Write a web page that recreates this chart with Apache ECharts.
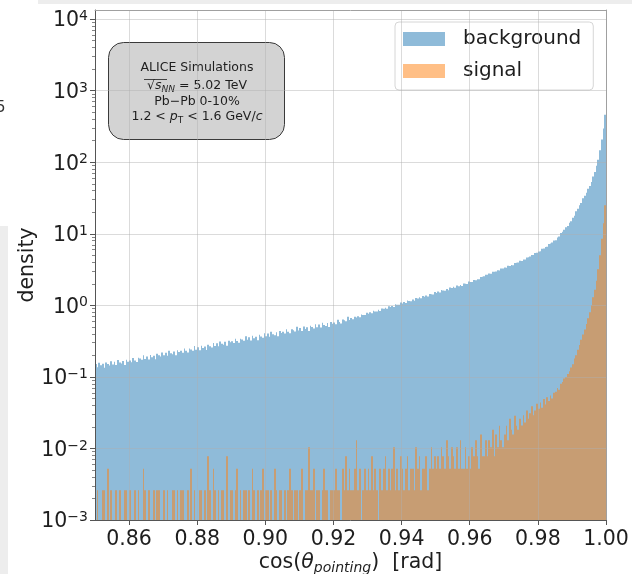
<!DOCTYPE html>
<html>
<head>
<meta charset="utf-8">
<script src="https://cdn.jsdelivr.net/npm/echarts@6/dist/echarts.min.js"></script>
<style>
  html, body { margin: 0; padding: 0; background: #ffffff; }
  #chart { width: 632px; height: 574px; }
</style>
</head>
<body>
<div id="chart"></div>
<script>
// Histogram binning of cos(theta_pointing): 300 bins of width 0.0005 over [0.85, 1.00]
const X_LO = 0.85;
const X_HI = 1.00;
const BIN_W = 0.0005;
const Y_MIN = 1e-3;
const Y_MAX = 1.34e4;

// Tick positions
const xTickValues = [0.86, 0.88, 0.90, 0.92, 0.94, 0.96, 0.98, 1.00];
const yTickValues = [1e-3, 1e-2, 1e-1, 1e0, 1e1, 1e2, 1e3, 1e4];

// Background density per bin (normalised histogram)
const bgDensity = [
  0.151,0.136,0.157,0.145,0.152,0.134,0.159,0.151,0.144,0.165,
  0.149,0.163,0.147,0.172,0.159,0.154,0.167,0.147,0.174,0.163,
  0.169,0.160,0.184,0.170,0.162,0.185,0.180,0.173,0.200,0.178,
  0.193,0.175,0.203,0.188,0.198,0.176,0.210,0.200,0.192,0.220,
  0.200,0.218,0.197,0.231,0.214,0.207,0.227,0.200,0.235,0.222,
  0.231,0.217,0.249,0.231,0.219,0.250,0.242,0.232,0.270,0.240,
  0.260,0.235,0.273,0.253,0.266,0.237,0.282,0.269,0.258,0.297,
  0.270,0.295,0.267,0.313,0.290,0.282,0.309,0.273,0.321,0.304,
  0.316,0.297,0.341,0.317,0.300,0.342,0.332,0.320,0.370,0.330,
  0.357,0.323,0.375,0.347,0.364,0.325,0.387,0.368,0.353,0.406,
  0.369,0.403,0.365,0.427,0.395,0.383,0.419,0.371,0.437,0.412,
  0.428,0.403,0.462,0.429,0.406,0.463,0.450,0.432,0.501,0.445,
  0.484,0.436,0.507,0.468,0.492,0.438,0.520,0.496,0.475,0.545,
  0.495,0.541,0.489,0.573,0.531,0.516,0.564,0.499,0.586,0.553,
  0.576,0.544,0.627,0.583,0.556,0.636,0.621,0.598,0.695,0.622,
  0.663,0.641,0.692,0.677,0.703,0.680,0.742,0.732,0.730,0.787,
  0.762,0.799,0.772,0.842,0.823,0.820,0.868,0.831,0.906,0.895,
  0.928,0.897,0.968,0.945,0.981,0.948,1.033,1.019,1.015,1.095,
  1.059,1.111,1.074,1.171,1.146,1.143,1.210,1.158,1.264,1.248,
  1.295,1.252,1.352,1.322,1.371,1.325,1.445,1.427,1.422,1.534,
  1.485,1.557,1.505,1.642,1.606,1.601,1.695,1.623,1.772,1.750,
  1.816,1.756,1.895,1.852,1.921,1.857,2.025,1.999,1.992,2.150,
  2.121,2.110,2.252,2.241,2.321,2.309,2.490,2.503,2.540,2.684,
  2.673,2.787,2.763,2.938,2.943,2.977,3.103,3.076,3.272,3.277,
  3.384,3.358,3.575,3.549,3.668,3.639,3.915,3.926,3.976,4.190,
  4.158,4.366,4.360,4.671,4.713,4.802,5.042,5.034,5.393,5.441,
  5.656,5.702,6.165,6.216,6.524,6.574,7.182,7.315,7.524,8.053,
  8.12,8.86,9.18,10.22,10.71,11.34,12.36,12.83,14.27,14.96,
  16.7,17.9,20.7,22.3,25.0,26.9,31.3,34.1,37.4,42.7,
  46.5,53,63,73,89,108,147,208,295,460
];

// Signal density per bin (0 = empty bin)
const sigDensity = [
  0,.0026,0,0,.0026,.0026,0,.0052,0,.0026,0,0,.0026,0,.0026,0,0,.0026,.0026,0,
  .0026,0,0,.0026,0,.0026,0,0,.0052,.0026,0,.0026,0,0,.0026,0,.0026,.0026,0,0,
  .0026,0,.0026,0,0,.0026,.0026,0,.0026,0,.0026,.0026,0,0,.0026,0,.0052,0,.0026,0,
  0,.0026,.0026,0,.0026,0,.0078,.0026,0,.0052,.0026,0,.0026,0,.0026,.0026,0,.0078,0,.0026,
  .0026,0,.0026,.0052,0,.0026,0,.0026,.0026,0,.0026,0,.0052,.0026,0,.0026,0,.0026,.0052,0,
  .0026,.0026,0,.0026,0,.0052,.0026,0,.0026,.0026,0,.0026,0,.0026,.0052,.0026,0,.0026,.0026,0,
  .0026,.0052,0,.0026,.0026,.0104,.0026,.0026,.0052,0,.0026,.0026,0,.0026,.0052,.0026,.0026,0,.0026,.0026,
  .0026,.0052,.0026,.0026,0,.0052,.0026,.0078,.0026,.0052,.0026,.0026,.0052,.013,.0026,.0052,0,.0026,.0052,.0026,
  .0052,.0026,.0078,.0026,.0052,.0026,0,.0052,.0026,.0052,.0078,.0026,.0052,.0026,.0052,.0104,.0026,.0052,.0026,.0078,
  .0052,.0026,.0052,.0078,.0026,.0052,.0052,.0026,.0104,.0052,.0078,.0026,.0052,.0052,.0078,.0026,.0052,.0104,.0052,.0078,
  .0052,.0078,.0052,.0104,.0078,.0052,.013,.0078,.0052,.0104,.0078,.0052,.0104,.0052,.013,.0052,.0052,.0104,.0052,.0078,
  .0052,.0104,.0078,.013,.0078,.0052,.0156,.0078,.0078,.013,.0078,.013,.0104,.0182,.0078,.0156,.0104,.0208,.013,.0104,
  .0156,.0208,.013,.026,.0182,.0156,.0286,.0208,.0182,.026,.021,.029,.023,.034,.026,.031,.039,.029,.034,.042,
  .036,.044,.037,.049,.041,.052,.046,.055,.05,.06,.062,.07,.066,.08,.085,.095,.1,.11,.12,.135,
  .15,.18,.2,.24,.28,.33,.39,.46,.55,.66,.8,1.0,1.3,1.65,2.2,3.2,5.0,8.5,14,25
];

const FONT = '"DejaVu Sans", "Liberation Sans", sans-serif';
const TEXT = '#1e1e1e';
const BG_COLOR = 'rgba(31,119,180,0.5)';
const SIG_COLOR = 'rgba(255,127,14,0.5)';
const GRID_LINE = 'rgba(176,176,176,0.45)';

// Minor ticks of the log axis at 2..9 x 10^n
const yMinorValues = [];
for (let e = -3; e < 4; e++) {
  for (let m = 2; m <= 9; m++) yMinorValues.push(m * Math.pow(10, e));
}

function toBins(values) {
  const out = [];
  values.forEach((v, i) => {
    if (v > 0) out.push([X_LO + i * BIN_W, X_LO + (i + 1) * BIN_W, v]);
  });
  return out;
}

// Each bin drawn as a rectangle from the axis floor up to its density;
// horizontal edges snapped to whole pixels so neighbouring bins tile without seams
function histRect(params, api) {
  const v = api.value(2);
  if (!(v > 0)) return null;
  const topLeft = api.coord([api.value(0), v]);
  const botRight = api.coord([api.value(1), Y_MIN]);
  const x0 = Math.round(topLeft[0]);
  const x1 = Math.round(botRight[0]);
  if (x1 <= x0) return null;
  return {
    type: 'rect',
    shape: {
      x: x0,
      y: topLeft[1],
      width: x1 - x0,
      height: botRight[1] - topLeft[1]
    },
    style: { fill: api.visual('color') }
  };
}

function powLabel(v) {
  const lg = Math.log10(v);
  const e = Math.round(lg);
  if (Math.abs(lg - e) > 1e-6) return '';
  const exp = e < 0 ? '\u2212' + (-e) : String(e);
  return '{b|10}{s|' + exp + '}';
}

const chart = echarts.init(document.getElementById('chart'), null, { renderer: 'canvas' });

const option = {
  animation: false,
  backgroundColor: '#ffffff',
  textStyle: { fontFamily: FONT },
  grid: {
    left: 95, top: 10, right: 26, bottom: 54,
    containLabel: false,
    outerBoundsMode: 'none'
  },
  legend: {
    orient: 'vertical',
    left: 395,
    top: 22,
    padding: [6, 12, 8, 8],
    itemGap: 10,
    itemWidth: 42,
    itemHeight: 14,
    backgroundColor: 'rgba(255,255,255,0.8)',
    borderColor: '#d6d6d6',
    borderWidth: 1,
    borderRadius: 4,
    selectedMode: false,
    textStyle: {
      fontFamily: FONT, fontSize: 20, color: TEXT,
      lineHeight: 22, padding: [0, 0, 0, 13]
    },
    data: [
      { name: 'background', icon: 'rect' },
      { name: 'signal', icon: 'rect' }
    ]
  },
  xAxis: [
    {
      type: 'value',
      min: X_LO,
      max: X_HI,
      position: 'bottom',
      z: 5,
      axisLine: { show: true, onZero: false, lineStyle: { color: '#555', width: 1 } },
      axisTick: {
        show: true, inside: false, length: 5,
        customValues: xTickValues,
        lineStyle: { color: '#555', width: 1 }
      },
      axisLabel: {
        customValues: xTickValues,
        margin: 9,
        fontFamily: FONT, fontSize: 20.5, color: TEXT,
        formatter: v => v.toFixed(2)
      },
      splitLine: { show: true, lineStyle: { color: GRID_LINE, width: 1 } },
      name: '{n|cos(}{i|\u03b8}{sub|pointing}{n|)  [rad]}',
      nameLocation: 'middle',
      nameGap: 31,
      nameMoveOverlap: false,
      nameTextStyle: {
        rich: {
          n: { fontFamily: FONT, fontSize: 20.5, color: TEXT, lineHeight: 24 },
          i: { fontFamily: FONT, fontSize: 20.5, color: TEXT, lineHeight: 24, fontStyle: 'italic' },
          sub: { fontFamily: FONT, fontSize: 14, color: TEXT, fontStyle: 'italic', verticalAlign: 'bottom' }
        }
      }
    },
    {
      // top spine
      type: 'value', min: X_LO, max: X_HI, position: 'top', z: 5,
      axisLine: { show: true, onZero: false, lineStyle: { color: '#a0a0a0', width: 1 } },
      axisTick: { show: false }, axisLabel: { show: false }, splitLine: { show: false }
    }
  ],
  yAxis: [
    {
      type: 'log',
      logBase: 10,
      min: Y_MIN,
      max: Y_MAX,
      position: 'left',
      z: 5,
      axisLine: { show: true, onZero: false, lineStyle: { color: '#555', width: 1 } },
      axisTick: {
        show: true, length: 5,
        customValues: yTickValues,
        lineStyle: { color: '#555', width: 1 }
      },
      axisLabel: {
        customValues: yTickValues,
        margin: 7,
        padding: [4, 0, 0, 0],
        formatter: powLabel,
        rich: {
          b: { fontFamily: FONT, fontSize: 20.5, color: TEXT, lineHeight: 23 },
          s: { fontFamily: FONT, fontSize: 14, color: TEXT, verticalAlign: 'top' }
        }
      },
      splitLine: { show: true, lineStyle: { color: GRID_LINE, width: 1 } },
      minorTick: { show: false },
      name: 'density',
      nameLocation: 'middle',
      nameGap: 57,
      nameMoveOverlap: false,
      nameTextStyle: { fontFamily: FONT, fontSize: 20.5, color: TEXT }
    },
    {
      // minor ticks of the log axis
      type: 'log', logBase: 10, min: Y_MIN, max: Y_MAX, position: 'left', z: 5,
      axisLine: { show: false },
      axisTick: {
        show: true, length: 3,
        customValues: yMinorValues,
        lineStyle: { color: '#666', width: 0.8 }
      },
      axisLabel: { show: false },
      splitLine: { show: false }
    },
    {
      // right spine
      type: 'log', logBase: 10, min: Y_MIN, max: Y_MAX, position: 'right', z: 5,
      axisLine: { show: true, onZero: false, lineStyle: { color: '#a0a0a0', width: 1 } },
      axisTick: { show: false }, axisLabel: { show: false }, splitLine: { show: false }
    }
  ],
  series: [
    {
      name: 'background',
      type: 'custom',
      xAxisIndex: 0,
      yAxisIndex: 0,
      z: 1,
      renderItem: histRect,
      itemStyle: { color: BG_COLOR },
      dimensions: ['lo', 'hi', 'density'],
      encode: { x: [0, 1], y: 2 },
      data: toBins(bgDensity)
    },
    {
      name: 'signal',
      type: 'custom',
      xAxisIndex: 0,
      yAxisIndex: 0,
      z: 1,
      renderItem: histRect,
      itemStyle: { color: SIG_COLOR },
      dimensions: ['lo', 'hi', 'density'],
      encode: { x: [0, 1], y: 2 },
      data: toBins(sigDensity)
    }
  ],
  graphic: [
    // page chrome around the figure
    { type: 'rect', silent: true, z: 0, shape: { x: 38, y: 0, width: 594, height: 4 }, style: { fill: '#ededed' } },
    { type: 'rect', silent: true, z: 0, shape: { x: 0, y: 226, width: 8, height: 348 }, style: { fill: '#ededed' } },
    { type: 'text', silent: true, x: -4, y: 101, style: { text: '5', font: '15px ' + FONT, fill: '#333' } },
    // info box
    {
      type: 'group',
      z: 100,
      children: [
        {
          type: 'rect',
          shape: { x: 108.5, y: 42.5, width: 176, height: 97, r: 15 },
          style: { fill: '#d3d3d3', stroke: '#3a3a3a', lineWidth: 1 }
        },
        {
          type: 'text', x: 197, y: 68,
          style: { text: 'ALICE Simulations', font: '12.5px ' + FONT, fill: TEXT, align: 'center', verticalAlign: 'middle' }
        },
        {
          type: 'text', x: 197, y: 86,
          style: {
            text: '{n|\u221a}{i|s}{sub|NN}{n| = 5.02 TeV}',
            align: 'center', verticalAlign: 'middle',
            rich: {
              n: { fontFamily: FONT, fontSize: 12.5, fill: TEXT, lineHeight: 16 },
              i: { fontFamily: FONT, fontSize: 12.5, fill: TEXT, lineHeight: 16, fontStyle: 'italic' },
              sub: { fontFamily: FONT, fontSize: 9, fill: TEXT, fontStyle: 'italic', verticalAlign: 'bottom' }
            }
          }
        },
        {
          type: 'line',
          shape: { x1: 144, y1: 79.5, x2: 167, y2: 79.5 },
          style: { stroke: TEXT, lineWidth: 0.8 }
        },
        {
          type: 'text', x: 197, y: 101.5,
          style: { text: 'Pb\u2212Pb 0-10%', font: '12.5px ' + FONT, fill: TEXT, align: 'center', verticalAlign: 'middle' }
        },
        {
          type: 'text', x: 197, y: 117,
          style: {
            text: '{n|1.2 < }{i|p}{sr|T}{n| < 1.6 GeV/}{i|c}',
            align: 'center', verticalAlign: 'middle',
            rich: {
              n: { fontFamily: FONT, fontSize: 12.5, fill: TEXT, lineHeight: 16 },
              i: { fontFamily: FONT, fontSize: 12.5, fill: TEXT, lineHeight: 16, fontStyle: 'italic' },
              sr: { fontFamily: FONT, fontSize: 9, fill: TEXT, verticalAlign: 'bottom' }
            }
          }
        }
      ]
    }
  ]
};

chart.setOption(option);
</script>
</body>
</html>
